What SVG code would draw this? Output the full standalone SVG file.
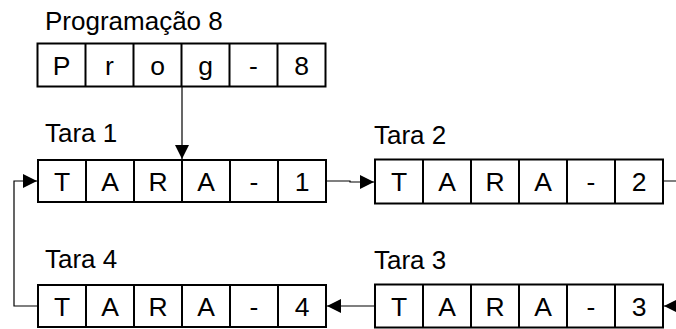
<svg xmlns="http://www.w3.org/2000/svg" width="676" height="329" viewBox="0 0 676 329">
<defs>
<style>
.box{fill:#fff;stroke:#000;stroke-width:2}
.div{stroke:#000;stroke-width:2}
.cell{font-family:"Liberation Sans",Arial,sans-serif;font-size:26.5px;fill:#000;text-anchor:middle}
.lbl{font-family:"Liberation Sans",Arial,sans-serif;font-size:26px;fill:#000}
.con{fill:none;stroke:#000;stroke-width:1.2}
</style>
<marker id="ah" markerUnits="userSpaceOnUse" markerWidth="15" markerHeight="15" refX="14" refY="7.5" orient="auto">
<path d="M0,0.5 L14,7.5 L0,14.5 Z" fill="#000"/>
</marker>
</defs>
<rect width="676" height="329" fill="#fff"/>
<g id="connectors">
<path class="con" d="M182,87 V159" marker-end="url(#ah)"/>
<path class="con" d="M326,181 H350 V182 H374" marker-end="url(#ah)"/>
<path class="con" d="M663,181 H700 V306 H664" marker-end="url(#ah)"/>
<path class="con" d="M375,306 H327" marker-end="url(#ah)"/>
<path class="con" d="M38,306 H14 V181 H37" marker-end="url(#ah)"/>
</g>
<g id="prog8">
<text class="lbl" x="45" y="30">Programação 8</text>
<rect class="box" x="37.5" y="43.5" width="288" height="43"/>
<path class="div" d="M85.5,43.5V86.5M133.5,43.5V86.5M181.5,43.5V86.5M229.5,43.5V86.5M277.5,43.5V86.5"/>
<text class="cell" y="74.5"><tspan x="61.5">P</tspan><tspan x="109.5">r</tspan><tspan x="157.5">o</tspan><tspan x="205.5">g</tspan><tspan x="253.5">-</tspan><tspan x="301.5">8</tspan></text>
</g>
<g id="tara1">
<text class="lbl" x="45" y="142">Tara 1</text>
<rect class="box" x="38" y="160" width="288" height="42"/>
<path class="div" d="M86,160V202M134,160V202M182,160V202M230,160V202M278,160V202"/>
<text class="cell" y="190.5"><tspan x="62">T</tspan><tspan x="110">A</tspan><tspan x="158">R</tspan><tspan x="206">A</tspan><tspan x="254">-</tspan><tspan x="302">1</tspan></text>
</g>
<g id="tara2">
<text class="lbl" x="374" y="144">Tara 2</text>
<rect class="box" x="375" y="159.5" width="288" height="44"/>
<path class="div" d="M423,159.5V203.5M471,159.5V203.5M519,159.5V203.5M567,159.5V203.5M615,159.5V203.5"/>
<text class="cell" y="191"><tspan x="399">T</tspan><tspan x="447">A</tspan><tspan x="495">R</tspan><tspan x="543">A</tspan><tspan x="591">-</tspan><tspan x="639">2</tspan></text>
</g>
<g id="tara3">
<text class="lbl" x="374" y="269">Tara 3</text>
<rect class="box" x="375" y="284.5" width="288" height="43"/>
<path class="div" d="M423,284.5V327.5M471,284.5V327.5M519,284.5V327.5M567,284.5V327.5M615,284.5V327.5"/>
<text class="cell" y="315.5"><tspan x="399">T</tspan><tspan x="447">A</tspan><tspan x="495">R</tspan><tspan x="543">A</tspan><tspan x="591">-</tspan><tspan x="639">3</tspan></text>
</g>
<g id="tara4">
<text class="lbl" x="45" y="268">Tara 4</text>
<rect class="box" x="38" y="285" width="288" height="42"/>
<path class="div" d="M86,285V327M134,285V327M182,285V327M230,285V327M278,285V327"/>
<text class="cell" y="315.5"><tspan x="62">T</tspan><tspan x="110">A</tspan><tspan x="158">R</tspan><tspan x="206">A</tspan><tspan x="254">-</tspan><tspan x="302">4</tspan></text>
</g>
</svg>
